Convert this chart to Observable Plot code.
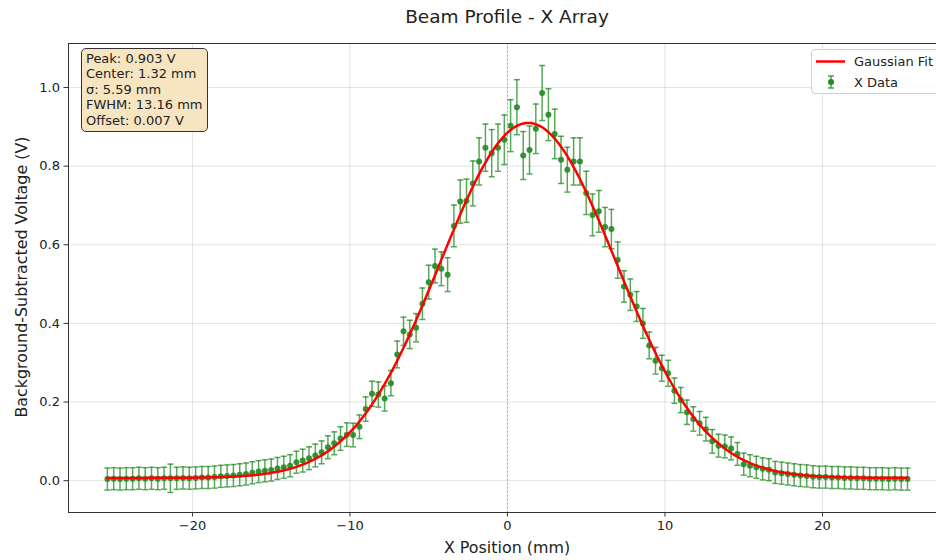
<!DOCTYPE html>
<html><head><meta charset="utf-8">
<script src="https://cdn.jsdelivr.net/npm/d3@7"></script>
<script src="https://cdn.jsdelivr.net/npm/@observablehq/plot@0.6"></script>
<style>
body{margin:0;background:#fff;font-family:"DejaVu Sans",sans-serif;color:#222;}
#wrap{position:relative;width:936px;height:560px;overflow:hidden;}
#title{position:absolute;left:207px;top:6px;width:600px;text-align:center;font-size:18.5px;line-height:22px;}
#xlabel{position:absolute;left:307px;top:538px;width:400px;text-align:center;font-size:15.9px;line-height:20px;}
#ylabel{position:absolute;left:-213px;top:267px;width:470px;height:20px;text-align:center;font-size:15.9px;line-height:20px;transform:rotate(-90deg);}
#info{position:absolute;left:81px;top:48px;width:127px;height:84px;box-sizing:border-box;background:#f7e5c2;border:1px solid #333;border-radius:5px;font-size:13px;line-height:15.4px;padding:2px 4px;white-space:nowrap;}
#legend{position:absolute;left:811px;top:49px;width:140px;height:45px;box-sizing:border-box;background:rgba(255,255,255,0.85);border:1px solid #d0d0d0;border-radius:4px;font-size:13px;}
#legend .t{position:absolute;left:42px;line-height:16px;white-space:nowrap;}
#legend svg{position:absolute;left:0;top:0;}
</style></head>
<body>
<div id="wrap">
<div id="chart"></div>
<div id="title">Beam Profile - X Array</div>
<div id="xlabel">X Position (mm)</div>
<div id="ylabel">Background-Subtracted Voltage (V)</div>
<div id="info"></div>
<div id="legend">
<svg width="40" height="45"><line x1="4" x2="33" y1="11.5" y2="11.5" stroke="red" stroke-width="2.5"/>
<line x1="19" x2="19" y1="26" y2="38" stroke="#228b22" stroke-opacity="0.8" stroke-width="1.5"/>
<line x1="16" x2="22" y1="26" y2="26" stroke="#228b22" stroke-opacity="0.8" stroke-width="1.5"/>
<line x1="16" x2="22" y1="38" y2="38" stroke="#228b22" stroke-opacity="0.8" stroke-width="1.5"/>
<circle cx="19" cy="32" r="3" fill="#228b22"/></svg>
<div class="t" style="top:3.5px">Gaussian Fit</div>
<div class="t" style="top:24.5px">X Data</div>
</div>
</div>
<script>
// Data positions (mm)
const xPos = [
-25.4,-25.0,-24.6,-24.2,-23.8,-23.4,-23.0,-22.6,-22.2,-21.8,
-21.4,-21.0,-20.6,-20.2,-19.8,-19.4,-19.0,-18.6,-18.2,-17.8,
-17.4,-17.0,-16.6,-16.2,-15.8,-15.4,-15.0,-14.6,-14.2,-13.8,
-13.4,-13.0,-12.6,-12.2,-11.8,-11.4,-11.0,-10.6,-10.2,-9.8,
-9.4,-9.0,-8.6,-8.2,-7.8,-7.4,-7.0,-6.6,-6.2,-5.8,
-5.4,-5.0,-4.6,-4.2,-3.8,-3.4,-3.0,-2.6,-2.2,-1.8,
-1.4,-1.0,-0.6,-0.2,0.2,0.6,1.0,1.4,1.8,2.2,
2.6,3.0,3.4,3.8,4.2,4.6,5.0,5.4,5.8,6.2,
6.6,7.0,7.4,7.8,8.2,8.6,9.0,9.4,9.8,10.2,
10.6,11.0,11.4,11.8,12.2,12.6,13.0,13.4,13.8,14.2,
14.6,15.0,15.4,15.8,16.2,16.6,17.0,17.4,17.8,18.2,
18.6,19.0,19.4,19.8,20.2,20.6,21.0,21.4,21.8,22.2,
22.6,23.0,23.4,23.8,24.2,24.6,25.0,25.4];
// Background-subtracted voltage (V)
const voltage = [
0.004,0.005,0.004,0.005,0.005,0.006,0.005,0.006,0.005,0.006,
0.006,0.006,0.007,0.006,0.007,0.008,0.008,0.009,0.011,0.012,
0.013,0.015,0.017,0.020,0.023,0.025,0.027,0.031,0.034,0.038,
0.047,0.051,0.057,0.064,0.072,0.085,0.095,0.107,0.117,0.116,
0.137,0.182,0.221,0.219,0.209,0.248,0.321,0.380,0.372,0.389,
0.450,0.505,0.546,0.539,0.524,0.648,0.710,0.712,0.756,0.812,
0.847,0.833,0.847,0.867,0.903,0.950,0.827,0.841,0.895,0.986,
0.931,0.882,0.816,0.791,0.812,0.812,0.732,0.676,0.685,0.645,
0.640,0.561,0.494,0.473,0.443,0.400,0.344,0.305,0.286,0.273,
0.229,0.205,0.174,0.157,0.146,0.131,0.100,0.089,0.087,0.082,
0.068,0.042,0.038,0.034,0.030,0.028,0.021,0.019,0.017,0.015,
0.013,0.012,0.010,0.009,0.009,0.008,0.008,0.007,0.007,0.006,
0.006,0.005,0.005,0.005,0.004,0.005,0.004,0.004];
// Error bar half-lengths (V)
const errors = [
0.028,0.028,0.028,0.028,0.028,0.028,0.028,0.028,0.028,0.028,
0.036,0.028,0.028,0.028,0.028,0.028,0.028,0.028,0.028,0.028,
0.028,0.028,0.028,0.028,0.028,0.028,0.028,0.028,0.028,0.028,
0.028,0.029,0.029,0.029,0.029,0.029,0.029,0.030,0.030,0.030,
0.030,0.031,0.032,0.032,0.032,0.032,0.034,0.036,0.036,0.036,
0.040,0.043,0.043,0.043,0.043,0.053,0.055,0.055,0.057,0.060,
0.060,0.060,0.060,0.063,0.066,0.070,0.061,0.061,0.063,0.070,
0.066,0.063,0.060,0.057,0.060,0.060,0.055,0.053,0.053,0.050,
0.050,0.046,0.040,0.040,0.038,0.038,0.034,0.034,0.033,0.033,
0.032,0.032,0.031,0.031,0.030,0.030,0.030,0.029,0.029,0.029,
0.029,0.028,0.028,0.028,0.028,0.028,0.028,0.028,0.028,0.028,
0.028,0.028,0.028,0.028,0.028,0.028,0.028,0.028,0.028,0.028,
0.028,0.028,0.028,0.028,0.028,0.028,0.028,0.028];
// Fit parameters shown in the annotation box
const fitPeak = 0.903, fitCenter = 1.32, fitSigma = 5.59, fitFWHM = 13.16, fitOffset = 0.007;
const xTicks = [-20, -10, 0, 10, 20];
const yTicks = [0.0, 0.2, 0.4, 0.6, 0.8, 1.0];
const infoLines = [
  `Peak: ${fitPeak.toFixed(3)} V`,
  `Center: ${fitCenter.toFixed(2)} mm`,
  `σ: ${fitSigma.toFixed(2)} mm`,
  `FWHM: ${fitFWHM.toFixed(2)} mm`,
  `Offset: ${fitOffset.toFixed(3)} V`
];
document.getElementById("info").innerHTML = infoLines.join("<br>");

const data = xPos.map((x, i) => ({x, v: voltage[i], e: errors[i]}));
const fitData = d3.range(-25.4, 25.401, 0.1).map(x => ({
  x, y: fitOffset + fitPeak * Math.exp(-((x - fitCenter) ** 2) / (2 * fitSigma * fitSigma))
}));

const green = "#228b22";
const xDom = [-27.87, 27.24], yDom = [-0.081, 1.112];
const cap = {draw(ctx) { ctx.moveTo(-3, 0); ctx.lineTo(3, 0); }};

const chart = Plot.plot({
  width: 936, height: 560,
  marginLeft: 68, marginRight: 0, marginTop: 43, marginBottom: 48,
  x: {domain: xDom},
  y: {domain: yDom},
  style: {fontFamily: "DejaVu Sans", fontSize: "13px", color: "#222", background: "transparent"},
  marks: [
    Plot.gridX(xTicks, {stroke: "#b0b0b0", strokeOpacity: 0.35, strokeWidth: 1}),
    Plot.gridY(yTicks, {stroke: "#b0b0b0", strokeOpacity: 0.35, strokeWidth: 1}),
    Plot.ruleX([0], {stroke: "#808080", strokeOpacity: 0.7, strokeDasharray: "1.5,2.5", strokeWidth: 1}),
    Plot.ruleX(data, {x: "x", y1: d => d.v - d.e, y2: d => d.v + d.e, stroke: green, strokeOpacity: 0.75, strokeWidth: 1.5}),
    Plot.dot(data, {x: "x", y: d => d.v - d.e, symbol: cap, stroke: green, strokeOpacity: 0.75, strokeWidth: 1.5, fill: "none"}),
    Plot.dot(data, {x: "x", y: d => d.v + d.e, symbol: cap, stroke: green, strokeOpacity: 0.75, strokeWidth: 1.5, fill: "none"}),
    Plot.dot(data, {x: "x", y: "v", r: 3, fill: green, fillOpacity: 0.9, stroke: "none"}),
    Plot.line(fitData, {x: "x", y: "y", stroke: "red", strokeWidth: 2.5}),
    Plot.ruleX([xDom[0]], {stroke: "#333", strokeWidth: 1}),
    Plot.ruleY([yDom[0], yDom[1]], {stroke: "#333", strokeWidth: 1}),
    Plot.axisX({ticks: xTicks, tickSize: 4.5, tickPadding: 4, fontSize: 13, label: null,
      tickFormat: d => d < 0 ? "\u2212" + (-d) : String(d), stroke: "#333"}),
    Plot.axisY({ticks: yTicks, tickSize: 4.5, tickPadding: 4, fontSize: 13, label: null,
      tickFormat: d3.format(".1f"), stroke: "#333"})
  ]
});
document.getElementById("chart").appendChild(chart);
</script>
</body></html>
